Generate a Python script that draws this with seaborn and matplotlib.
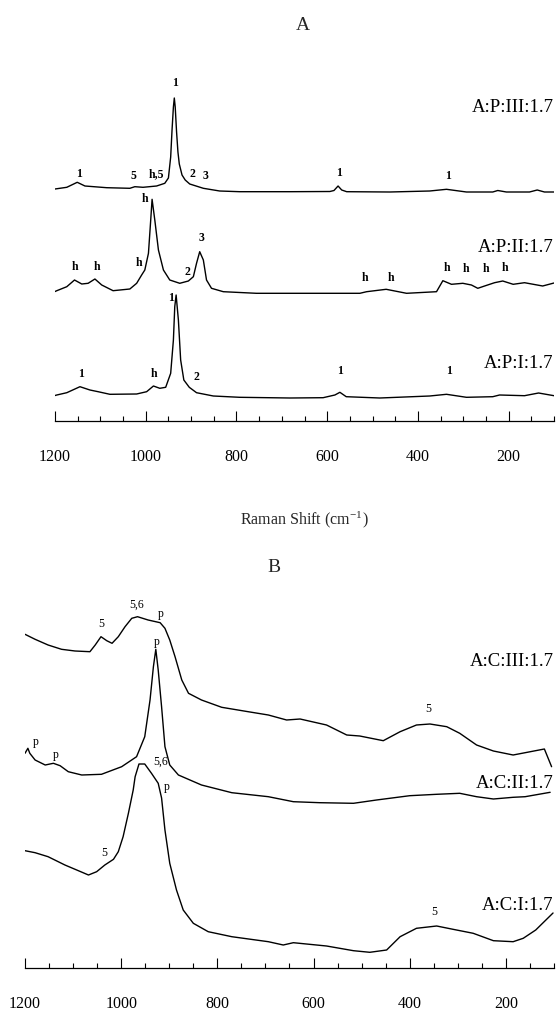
import matplotlib
matplotlib.use("Agg")
import matplotlib.pyplot as plt
from matplotlib.ticker import FixedLocator
import numpy as np
import pandas as pd
import seaborn as sns

# ---------------- Panel A spectra (Raman shift in cm-1, intensity in arbitrary units) -------------
wn_p3 = [1200, 1174, 1151, 1134, 1086, 1035, 1024, 1006, 976, 958, 950, 945, 942, 939, 937, 935, 932, 929, 926, 920,
         913, 903, 873, 837, 793, 682, 594, 585, 576, 568, 557, 462, 374, 337, 293, 235, 224, 205, 154, 137, 121, 100]
int_p3 = [3, 4.7, 9.7, 6, 4.3, 3.7, 5.3, 4.7, 6, 8.7, 14, 35, 62, 85, 94, 85, 60, 40, 28, 17,
          12, 8, 3.7, 1, 0.3, 0.3, 0.5, 1.5, 6, 2, 0.3, 0, 1, 2.7, 0, 0, 1.5, 0, 0, 2, 0, 0]

wn_p2 = [1200, 1196, 1174, 1157, 1141, 1127, 1112, 1097, 1072, 1035, 1020, 1009, 1002, 994, 989, 986, 980, 972, 961, 947,
         925, 906, 895, 888, 881, 873, 866, 855, 829, 756, 682, 528, 513, 470, 425, 359, 345, 326, 301, 282,
         268, 253, 231, 213, 190, 165, 125, 100]
int_p2 = [1.5, 2.3, 6.3, 13, 9, 9.7, 14, 8, 2.3, 4, 9.7, 18, 23, 39.7, 73, 93.7, 73, 43, 23, 13,
          9.7, 12, 16.3, 29.7, 41.3, 33, 13, 4.7, 1.3, -0.3, -0.3, -0.3, 1.3, 3.7, -0.3, 1.3, 12.3, 8.7, 9.7, 8,
          4.7, 7, 10.3, 12, 8.7, 10.3, 7, 10]

wn_p1 = [1200, 1196, 1174, 1145, 1123, 1105, 1079, 1020, 998, 983, 969, 956, 945, 939, 936, 933, 928, 923, 916, 904,
         888, 851, 793, 682, 609, 583, 572, 558, 484, 374, 337, 293, 235, 220, 165, 134, 100]
int_p1 = [2.5, 3, 5.3, 11.3, 8, 6.3, 3.7, 4, 6.3, 12, 9.7, 10.7, 24.7, 58, 91.3, 103, 78, 38, 18, 10.7,
          5.3, 2, 0.7, 0, 0.3, 3, 5.7, 1.3, 0, 2, 3.7, 0.7, 1.3, 3, 2.3, 5, 2.3]

# ---------------- Panel B spectra -------------
wn_c3 = [1200, 1179, 1152, 1124, 1096, 1065, 1054, 1042, 1030, 1019, 1006, 992, 978, 966, 944, 919, 909, 899, 888, 874,
         860, 833, 791, 736, 694, 656, 628, 573, 531, 504, 455, 420, 386, 358, 323, 296, 261, 226, 185, 160,
         120, 105]
int_c3 = [123.7, 118.7, 113, 108.7, 107, 106.3, 113, 121.3, 117.3, 114.7, 121.3, 131.3, 139.7, 141.3, 138, 135.3, 129.7,
          118, 101.3, 78, 64.7, 58, 50.7, 46.3, 43, 38, 39, 33, 23, 22, 17.3, 26.3, 33, 34, 31.3, 24.7, 13, 7, 3, 5.3,
          9, -8.7]

wn_c2 = [1200, 1194, 1190, 1179, 1158, 1141, 1127, 1110, 1082, 1041, 999, 968, 951, 940, 933, 928, 923, 916, 909, 899,
         881, 833, 770, 694, 642, 587, 517, 469, 400, 344, 296, 261, 226, 185, 160, 108]
int_c2 = [54.7, 59.7, 54.7, 48, 43, 44.7, 42.3, 36.3, 33, 33.7, 41.3, 51.3, 71.3, 108, 141.3, 158.7, 138, 101.3, 61.3, 43,
          33, 23, 15.3, 11.3, 6.3, 5.3, 4.7, 8, 12.3, 13.7, 14.7, 11.3, 9, 10.7, 11.3, 15.7]

wn_c1 = [1200, 1179, 1152, 1117, 1089, 1068, 1051, 1034, 1016, 1006, 996, 985, 975, 971, 963, 951, 937, 923, 916, 909,
         899, 885, 871, 850, 819, 770, 694, 663, 642, 573, 517, 483, 448, 420, 386, 344, 310, 268, 226, 185,
         164, 138, 102]
int_c1 = [102.3, 100.3, 96.3, 88, 82.3, 78, 81.3, 88, 93.7, 101.3, 116.3, 139.7, 163, 176.3, 189, 189, 179.7, 169.7, 155,
          123, 89.7, 63, 43, 29.7, 21.3, 16.3, 11.3, 8, 10.3, 7, 2.3, 0.7, 3, 16.3, 24.7, 27, 23.7, 19.7, 12.3, 11.3,
          14.7, 23, 40]

names_A = ["A:P:III:1.7", "A:P:II:1.7", "A:P:I:1.7"]
names_B = ["A:C:III:1.7", "A:C:II:1.7", "A:C:I:1.7"]
tick_values = [1200, 1000, 800, 600, 400, 200]
tick_labels = ["1200", "1000", "800", "600", "400", "200"]

# band assignment labels: (text, Raman shift, height on stacked plot)
bands_A = [("1", 1146, 246.7), ("5", 1026, 245.3), ("h,5", 976, 246.7), ("1", 936, 337.7), ("2", 897, 246.7),
           ("3", 868, 245), ("1", 574, 247.7), ("1", 334, 245),
           ("h", 1156, 153.7), ("h", 1108, 153.7), ("h", 1015, 157.7), ("h", 1002, 222), ("2", 908, 148.7),
           ("3", 878, 182.7), ("h", 516, 142.7), ("h", 460, 143.3), ("h", 337, 152.7), ("h", 295, 152),
           ("h", 251, 152), ("h", 207, 153.3),
           ("1", 1143, 47), ("h", 982, 47), ("1", 944, 122.7), ("2", 889, 44.3), ("1", 572, 50.3), ("1", 332, 50.3)]
bands_B = [("5", 1041, 343.7), ("5,6", 968, 363), ("p", 917, 354), ("5", 362, 258.7),
           ("p", 926, 326.3), ("p", 1177, 226), ("p", 1137, 213),
           ("5,6", 919, 206), ("p", 905, 181.3), ("5", 1035, 115.3), ("5", 350, 55.7)]

# ---------------- layout -------------
sns.set_theme(style="white")
plt.rcParams['font.family'] = ['Liberation Serif', 'DejaVu Serif']
plt.rcParams['mathtext.fontset'] = 'stix'

W, H = 558, 1015
fig = plt.figure(figsize=(W / 100, H / 100), dpi=100)
fig.patch.set_facecolor("white")


def ax_at(left, right, top, bottom):
    return fig.add_axes([left / W, 1 - bottom / H, (right - left) / W, (bottom - top) / H])


axA = ax_at(55, 554, 60, 421)
axB = ax_at(25, 554, 590, 968)

offsets_A = [229, 128, 23]
offsets_B = [210, 160, 15]
label_y_A = [313, 173, 58]
label_y_B = [306, 185, 63]


def draw(ax, wn, inten, off):
    df = pd.DataFrame({"wn": wn, "y": np.asarray(inten, dtype=float) + off})
    sns.lineplot(data=df, x="wn", y="y", ax=ax, color="black", lw=1.0,
                 estimator=None, sort=False)


def style(ax, ymax):
    ax.set_xlim(1200, 100)
    ax.set_ylim(0, ymax)
    for s in ["left", "right", "top"]:
        ax.spines[s].set_visible(False)
    ax.spines["bottom"].set_linewidth(0.9)
    ax.spines["bottom"].set_color("black")
    ax.set_yticks([])
    ax.set_xticks(tick_values)
    ax.set_xticklabels(tick_labels)
    ax.xaxis.set_minor_locator(FixedLocator([1150, 1100, 1050, 950, 900, 850, 750, 700, 650,
                                             550, 500, 450, 350, 300, 250, 150, 100]))
    ax.tick_params(axis='x', which='major', direction='in', length=7, width=0.8, pad=20,
                   labelsize=11.5, colors='black', bottom=True)
    ax.tick_params(axis='x', which='minor', direction='in', length=3.5, width=0.8,
                   colors='black', bottom=True)
    ax.set_xlabel("")
    ax.set_ylabel("")
    ax.patch.set_alpha(0)


for wn, it, off in zip([wn_p3, wn_p2, wn_p1], [int_p3, int_p2, int_p1], offsets_A):
    draw(axA, wn, it, off)
for wn, it, off in zip([wn_c3, wn_c2, wn_c1], [int_c3, int_c2, int_c1], offsets_B):
    draw(axB, wn, it, off)

style(axA, 361)
style(axB, 378)

for name, yy in zip(names_A, label_y_A):
    axA.text(100.5, yy, name, ha="right", va="center", fontsize=13.5, color="black")
for name, yy in zip(names_B, label_y_B):
    axB.text(100.5, yy, name, ha="right", va="center", fontsize=13.5, color="black")

for t, x, y in bands_A:
    axA.text(x, y, t, ha="center", va="center", fontsize=8.5, color="black", fontweight="bold")
for t, x, y in bands_B:
    axB.text(x, y, t, ha="center", va="center", fontsize=8.5, color="black")

fig.text(303 / W, 1 - 25 / H, "A", ha="center", va="center", fontsize=14)
fig.text(274 / W, 1 - 567 / H, "B", ha="center", va="center", fontsize=14)
fig.text(304 / W, 1 - 520 / H, r"Raman Shift (cm$^{\mathregular{-1}}$)", ha="center", va="center", fontsize=11.5)

fig.savefig("out.png", dpi=100, facecolor="white")
